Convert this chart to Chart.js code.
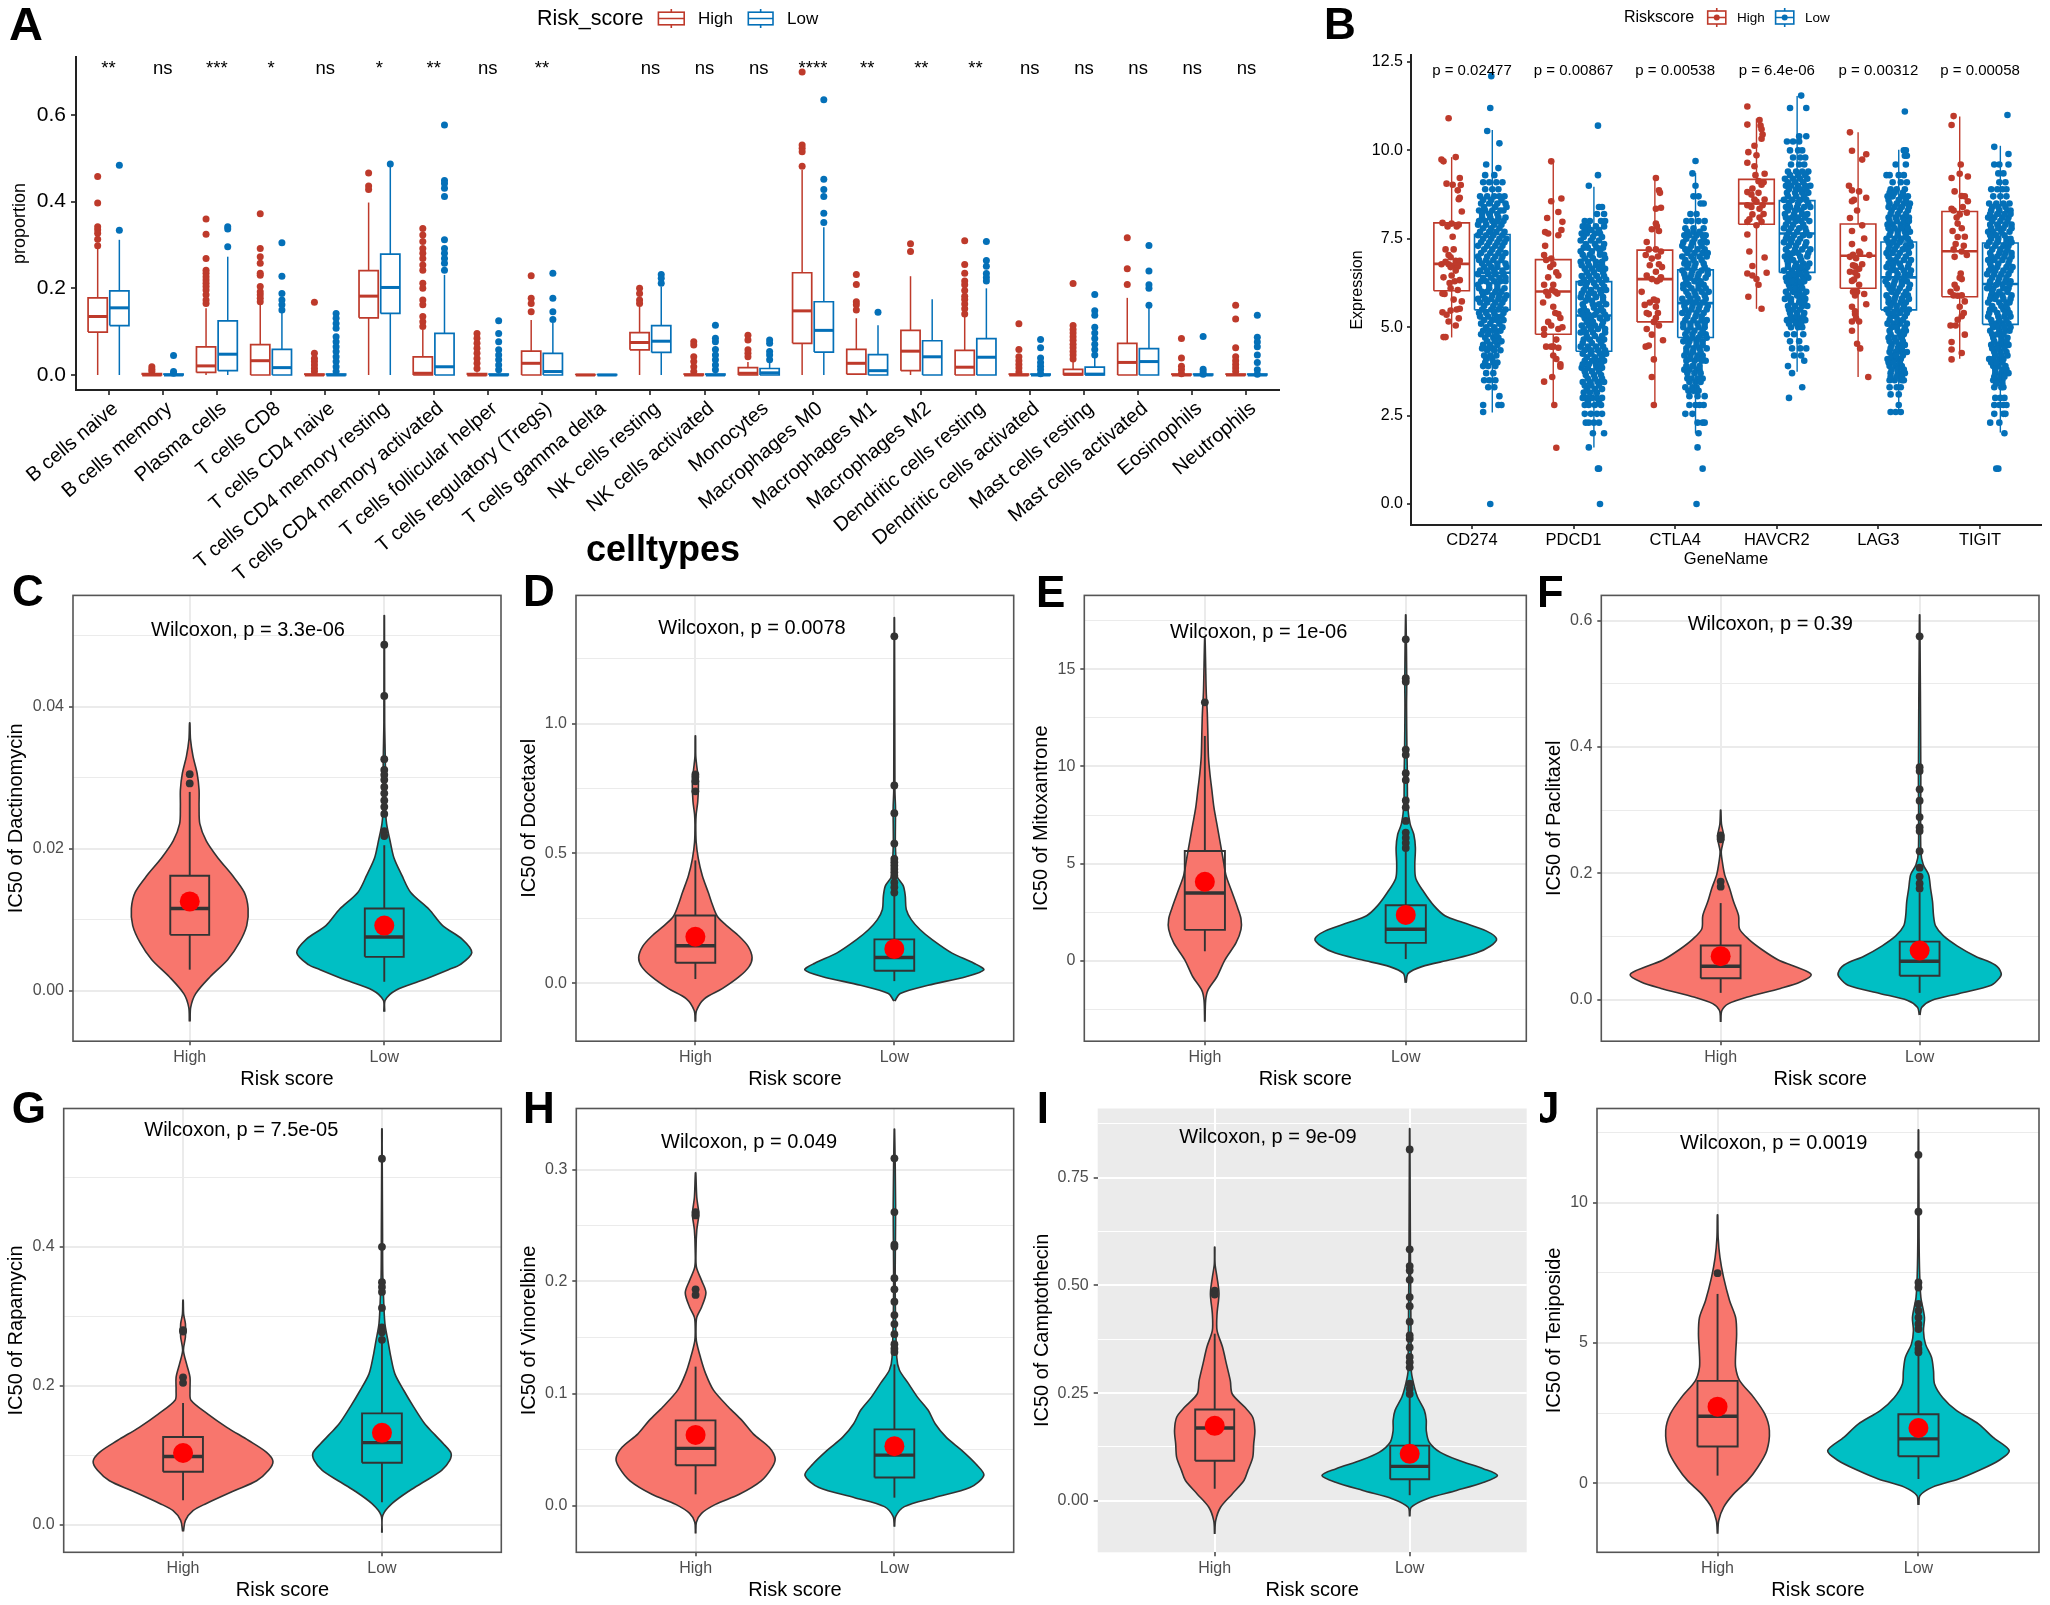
<!DOCTYPE html>
<html><head><meta charset="utf-8"><title>Risk score panels</title>
<script src="https://cdn.jsdelivr.net/npm/chart.js@4/dist/chart.umd.js"></script>
<style>html,body{margin:0;padding:0;background:#fff;width:2050px;height:1605px;overflow:hidden}canvas{position:absolute;display:block}</style>
</head><body>
<script>
/* ---------- Panel A data ---------- */
const cellTypes=["B cells naive","B cells memory","Plasma cells","T cells CD8","T cells CD4 naive","T cells CD4 memory resting","T cells CD4 memory activated","T cells follicular helper","T cells regulatory (Tregs)","T cells gamma delta","NK cells resting","NK cells activated","Monocytes","Macrophages M0","Macrophages M1","Macrophages M2","Dendritic cells resting","Dendritic cells activated","Mast cells resting","Mast cells activated","Eosinophils","Neutrophils"];
const sigLabels=["**","ns","***","*","ns","*","**","ns","**","","ns","ns","ns","****","**","**","**","ns","ns","ns","ns","ns"];
const boxesAHigh=[[0,.099,.135,.178,.292],[0,0,0,.003,.006],[0,.006,.021,.065,.154],[0,0,.033,.07,.165],[0,0,0,.002,.004],[0,.132,.182,.241,.398],[0,0,.004,.042,.104],[0,0,0,.003,.006],[0,0,.027,.055,.127],[0,0,0,.001,.001],[0,.058,.075,.098,.158],[0,0,0,.002,.004],[0,0,.004,.017,.03],[0,.073,.148,.236,.473],[0,.002,.027,.059,.131],[0,.01,.055,.103,.228],[0,0,.018,.057,.141],[0,0,0,.002,.004],[0,0,.002,.013,.03],[0,0,.029,.073,.178],[0,0,0,.002,.004],[0,0,0,.002,.004]];
const boxesALow=[[0,.114,.155,.194,.312],[0,0,0,.002,.004],[0,.01,.048,.125,.273],[0,0,.017,.059,.146],[0,0,0,.002,.004],[0,.142,.202,.279,.48],[0,0,.019,.096,.231],[0,0,0,.002,.004],[0,0,.008,.05,.12],[0,0,0,.001,.001],[0,.052,.078,.114,.204],[0,0,0,.002,.004],[0,0,.005,.015,.03],[0,.053,.103,.169,.341],[0,0,.01,.047,.115],[0,0,.042,.079,.175],[0,0,.041,.084,.2],[0,0,0,.002,.004],[0,0,.002,.018,.04],[0,0,.031,.061,.161],[0,0,0,.002,.004],[0,0,0,.002,.004]];
const outliersAHigh=[[.458,.397,.342,.335,.327,.313,.298],[.019,.013,.008],[.36,.325,.269,.242,.235,.227,.219,.212,.204,.196,.185,.173,.165],[.372,.292,.273,.258,.235,.23,.204,.192,.185,.177,.169],[.168,.05,.038,.031,.023,.015,.008],[.466,.436,.428],[.338,.323,.308,.292,.281,.269,.254,.242,.212,.2,.173,.162,.135,.123,.112],[.096,.085,.073,.062,.05,.038,.027,.015],[.229,.177,.165,.146],[],[.2,.188,.173,.165],[.077,.069,.042,.031,.019,.008],[.092,.081,.058,.05,.042],[.699,.531,.523,.515,.482],[.232,.209,.169,.162,.15],[.303,.285],[.31,.255,.235,.217,.208,.195,.182,.174,.164,.153,.141],[.118,.059,.042,.033,.024,.016,.007],[.211,.114,.105,.097,.088,.08,.071,.063,.054,.046,.037],[.317,.245,.209],[.084,.039,.02,.012,.003],[.161,.129,.063,.042,.033,.024,.016,.008]];
const outliersALow=[[.484,.334],[.045,.008,.004],[.342,.337,.296],[.305,.228,.188,.173,.162,.15],[.142,.131,.119,.108,.088,.077,.065,.054,.042,.031,.019,.008],[.487],[.577,.449,.442,.431,.412,.312,.292,.281,.269,.258,.242],[.125,.096,.077,.058,.046,.035,.023,.012],[.235,.177,.146,.128],[],[.232,.223,.212],[.115,.085,.077,.059,.046,.035,.023,.012],[.081,.073,.054,.046,.035],[.635,.452,.428,.412,.373,.352],[.145],[],[.308,.264,.251,.234,.225,.217],[.082,.063,.039,.029,.02,.012,.003],[.186,.148,.138,.11,.097,.084,.071,.059,.046],[.299,.24,.208,.2,.161],[.089,.013,.007,.002],[.138,.087,.076,.065,.046,.029,.012,.002]];
const tickValuesA=[0,.2,.4,.6];

/* ---------- Panel B data ---------- */
const geneNames=["CD274","PDCD1","CTLA4","HAVCR2","LAG3","TIGIT"];
const genePValues=["p = 0.02477","p = 0.00867","p = 0.00538","p = 6.4e-06","p = 0.00312","p = 0.00058"];
const boxesBHigh=[[4.71,6.03,6.79,7.95,9.81],[2.8,4.8,6.01,6.91,9.69],[2.8,5.15,6.36,7.18,9.24],[5.52,7.91,8.5,9.18,10.9],[3.59,6.1,7.02,7.92,10.51],[4.11,5.86,7.15,8.27,10.96]];
const boxesBLow=[[2.59,5.49,6.54,7.62,10.58],[1.6,4.32,5.33,6.29,8.97],[2,4.71,5.68,6.62,9.36],[3.74,6.55,7.65,8.58,11.54],[2.59,5.49,6.41,7.41,10.02],[2.02,5.08,6.22,7.38,10.13]];
const tickValuesB=[0,2.5,5,7.5,10,12.5];
const highCD274=[[-3,10.91],[-10,9.74],[-8,9.69],[4,9.81],[-5,9.06],[1,9.03],[8,9.22],[6,8.87],[8,8.66],[10,8.27],[-9,7.95],[0,7.93],[7,7.9],[1,7.56],[-6,7.2],[-3,7.04],[4,6.88],[-10,6.78],[-3,6.78],[2,6.73],[8,6.88],[8,6.33],[-8,6.41],[0,6.46],[-1,6.1],[6,6.05],[-7,5.94],[2,5.78],[10,5.73],[-9,5.42],[-1,5.47],[8,5.52],[-3,5.16],[4,5.05],[-8,4.72],[-6,4.72],[5,7.85],[-4,7.85],[2,7.2],[-1,6.98],[-6,6.85],[6,6.72],[-1,6.7],[4,6.6],[-2,6.25],[3,6.3],[-9,5.95],[5,5.5],[7,5.25],[-5,5.35],[9,9.02],[7,8.62]];
const highPDCD1=[[-2,9.69],[8,8.64],[-2,8.56],[-6,8.09],[5,8.26],[9,7.98],[-8,7.69],[-5,7.65],[8,7.75],[5,7.6],[-8,7.3],[-9,7.04],[-2,6.94],[0,6.78],[5,6.46],[-5,6.41],[0,6.2],[-9,6.2],[-7,6],[2,6],[-10,5.7],[0,5.58],[5,5.37],[7,5.26],[-2,5.05],[-9,4.95],[5,4.95],[9,5],[-9,4.79],[-7,4.45],[-2,4.45],[5,4.42],[0,4.2],[7,3.95],[7,3.88],[-9,3.46],[-1,3.59],[1,2.8],[3,1.59],[-7,6.9],[-3,6.7],[3,6.55],[-1,6.05],[4,5.95],[-5,5.9],[2,5.4],[-5,5.15],[3,4.65],[0,4.45],[3,4.1]];
const highCTLA4=[[1,9.22],[4,8.87],[6,8.38],[1,8.35],[1,7.93],[-3,7.77],[4,7.72],[-8,7.41],[1,7.2],[-9,7.04],[6,7.14],[-3,6.94],[4,6.78],[1,6.57],[-8,6.46],[6,6.41],[-3,6.36],[-13,6],[-1,5.78],[-10,5.63],[1,5.58],[-6,5.37],[1,5.26],[4,5.05],[-8,4.95],[-3,4.79],[8,4.63],[-6,4.48],[-9,4.45],[-1,4.09],[-3,3.59],[-1,2.8],[5,8.8],[2,7.85],[-6,7.2],[3,7],[-5,6.75],[7,6.7],[5,6.35],[2,6.3],[-5,5.7],[2,5.75],[-8,5.4],[3,5.4],[-1,5.15]];
const highHAVCR2=[[-9,11.24],[-9,10.73],[3,10.86],[5,10.6],[5,10.33],[-2,10.13],[-8,9.95],[0,9.86],[-9,9.65],[-2,9.55],[8,9.34],[2,9.13],[-9,8.82],[-4,8.92],[5,9.03],[-2,8.61],[8,8.61],[-9,8.45],[3,8.35],[-4,8.19],[-9,7.98],[5,7.98],[0,7.88],[-9,7.62],[-7,7.14],[8,6.97],[-4,6.73],[-9,6.52],[-4,6.46],[10,6.54],[0,6.36],[2,6.2],[-8,5.86],[5,5.52],[4,10.7],[6,10.45],[-1,9.3],[7,9.1],[-5,8.75],[2,8.8],[6,8.45],[0,8.55],[-5,8.4],[3,8.1],[-7,8.05],[7,8.2]];
const highLAG3=[[-8,10.51],[-6,9.99],[8,9.89],[4,9.74],[-9,9],[-6,8.87],[1,8.84],[8,8.66],[-6,8.56],[-1,8.3],[-8,8.09],[4,7.88],[-6,7.72],[6,7.51],[-6,7.35],[1,7.14],[-8,6.99],[11,7.04],[-3,6.73],[4,6.78],[-8,6.57],[-1,6.46],[-6,6.31],[-1,6],[6,5.94],[-6,5.58],[8,5.65],[-3,5.37],[-6,5.16],[1,5.16],[-6,4.9],[-1,4.53],[2,4.4],[10,3.59],[-4,8.6],[2,7.1],[-5,7.05],[-2,6.95],[-5,6.75],[1,6.65],[-3,6.55],[-4,6.35],[1,6.2],[-5,6],[-3,5.9],[-2,5.25],[-3,5.45]];
const highTIGIT=[[-6,10.97],[-8,10.72],[1,9.6],[0,9.34],[8,9.26],[-8,9.22],[-5,8.84],[2,8.71],[8,8.56],[-8,8.35],[0,8.19],[7,8.24],[-2,7.93],[-7,7.72],[5,7.56],[-4,7.35],[2,7.14],[-5,6.99],[7,7.04],[1,6.52],[2,6.36],[-5,6.2],[-9,6],[-2,5.89],[5,5.73],[0,5.58],[2,5.31],[-2,5.21],[-9,5.05],[5,4.79],[-8,4.58],[2,4.27],[-8,4.37],[-8,4.09],[5,8.7],[3,8.4],[-6,8.3],[-3,8.1],[2,7.8],[-2,7.55],[4,7.3],[-6,7.2],[0,6.4],[-3,6.1],[2,5.9],[-6,5.9],[4,5.4],[-4,5.05]];
const lowCD274=[[12.1,[-1]],[11.2,[-2]],[10.55,[-5]],[10.2,[7]],[9.6,[-6]],[9.5,[6]],[9.3,[-7,2]],[9.1,[-9,-3,4,10]],[8.9,[-7,0,6]],[8.7,[-12,-5,2,7,12]],[8.5,[-11,-3,5,13]],[8.3,[-13,-7,0,8,11]],[8.1,[-10,-2,6,13]],[7.9,[-14,-6,2,9]],[7.7,[-12,-3,4,12]],[7.5,[-9,-1,7,14]],[7.3,[-14,-5,3,10]],[7.1,[-11,-2,6,13]],[6.9,[-13,-6,1,9]],[6.7,[-8,-1,5,14]],[6.5,[-14,-4,3,11]],[6.3,[-11,-6,2,8,13]],[6.1,[-13,-3,5,12]],[5.9,[-9,0,7,14]],[5.7,[-12,-5,3,10]],[5.5,[-10,-1,6,13]],[5.3,[-12,-4,4,9]],[5.1,[-11,-2,7]],[4.9,[-9,-3,3,8]],[4.7,[-7,1,6]],[4.5,[-9,-2,5]],[4.35,[-5,2,8]],[4.1,[-6,0]],[3.9,[-9,-4,3]],[3.7,[-6,1]],[3.5,[-8,-3,3]],[3.3,[-4,2]],[3.05,[7]],[2.8,[-9,6,9]],[2.6,[-9]],[0,[-2]]];
const lowPDCD1=[[10.7,[4]],[9.3,[4]],[9,[-5]],[8.4,[5,8]],[8.2,[3,10]],[8,[-9,-4,7,11]],[7.85,[-11,-6,2,10]],[7.65,[-12,-7,1,6]],[7.45,[-13,-3,5]],[7.25,[-10,-6,3,9]],[7.05,[-11,-4,6,10]],[6.85,[-13,-6,2,8]],[6.65,[-9,-2,5,11]],[6.45,[-12,-5,3,10]],[6.25,[-13,-7,0,8]],[6.05,[-10,-3,6,12]],[5.85,[-13,-6,2,9]],[5.65,[-11,-1,5,12]],[5.45,[-13,-7,3,9]],[5.25,[-9,-3,6,13]],[5.05,[-12,-5,1,8]],[4.85,[-13,-8,-1,11]],[4.65,[-10,-4,5,10]],[4.45,[-13,-6,2,9]],[4.25,[-11,-3,6,12]],[4.05,[-9,-2,4,10]],[3.85,[-12,-6,3,8]],[3.65,[-8,0,7]],[3.45,[-11,-4,4,10]],[3.25,[-7,1,8]],[3,[-11,-7,-2,3,8]],[2.8,[-9,-5,1,7]],[2.55,[-9,-3,3,8]],[2.3,[-8,-5,0,5]],[2,[-1,10]],[1.6,[-5]],[1,[4,5]],[0,[6]]];
const lowCTLA4=[[9.7,[0]],[9.35,[-3]],[9,[0]],[8.7,[-2,3]],[8.5,[8,5]],[8.2,[-5,1]],[8,[-9,-4,3,9]],[7.8,[-10,-2,8]],[7.6,[-11,-6,1,7,10]],[7.4,[-12,-3,5,11]],[7.2,[-10,-6,2,9]],[7,[-13,-4,4,11]],[6.8,[-11,-7,0,8]],[6.6,[-13,-3,6,12]],[6.4,[-10,-5,2,10]],[6.2,[-12,-7,3,8]],[6,[-9,-1,6,13]],[5.8,[-13,-5,2,10]],[5.6,[-11,-3,4,12]],[5.4,[-13,-7,1,8]],[5.2,[-10,-2,6,11]],[5,[-12,-5,3,9]],[4.8,[-10,-3,5,10]],[4.6,[-12,-6,1,7]],[4.4,[-9,-2,4,11]],[4.2,[-11,-5,2,7]],[4.05,[-9,-1,6,10]],[3.8,[-11,-6,1,4]],[3.55,[-8,-4,2,7]],[3.3,[-10,-3,1]],[3.05,[-6,2,9]],[2.8,[-6,0,4,8]],[2.55,[-10,-3]],[2.3,[2,7,9]],[2,[3]],[1.6,[2]],[1,[7]],[0,[1]]];
const lowHAVCR2=[[11.55,[4]],[11.2,[-7,9]],[10.4,[2,9]],[10.25,[-10,-4,2]],[10,[-7,1,5]],[9.8,[-4,3,8]],[9.6,[-6,2,7]],[9.4,[-9,-1,5,11]],[9.2,[-12,-4,3,10]],[9,[-11,-6,1,8,13]],[8.8,[-10,-2,5,11]],[8.6,[-13,-5,3,9]],[8.4,[-11,-7,0,7,13]],[8.2,[-12,-3,5,10]],[8,[-9,-1,4,12]],[7.8,[-13,-6,2,8]],[7.6,[-10,-3,6,12]],[7.4,[-13,-6,1,9]],[7.2,[-11,-2,5,13]],[7,[-12,-7,3,10]],[6.8,[-9,-1,6,12]],[6.6,[-13,-5,2,8]],[6.4,[-11,-7,-1,6,11]],[6.2,[-8,-2,4]],[6,[-11,-4,2,9]],[5.8,[-12,-6,3,8]],[5.6,[-9,-2,5,10]],[5.4,[-7,0,7]],[5.2,[-10,-4,2,8]],[5,[-6,1,5]],[4.8,[-10,-3,6]],[4.6,[-7,2]],[4.4,[-5,3,9]],[4.2,[-3,4]],[4.05,[7]],[3.9,[-9]],[3.7,[-5]],[3.3,[5]],[3,[-8]]];
const lowLAG3=[[11.1,[6]],[10,[5,7]],[9.85,[6,8]],[9.6,[-3,7]],[9.3,[-12,-9,0,5]],[9.1,[-6,2,8]],[8.9,[-8,-2,6]],[8.7,[-11,-6,3,9]],[8.5,[-9,-2,5,11]],[8.3,[-7,1,9]],[8.1,[-10,-3,4,10]],[7.9,[-11,-6,2,8]],[7.7,[-8,-1,6,11]],[7.5,[-12,-4,3,9]],[7.3,[-9,-2,7,12]],[7.1,[-12,-6,1,10]],[6.9,[-8,-3,5,12]],[6.7,[-12,-6,2,9]],[6.5,[-10,-1,6,11]],[6.3,[-13,-4,3,8]],[6.1,[-9,-6,1,10]],[5.9,[-12,-3,5,9]],[5.7,[-10,-5,2,7]],[5.5,[-12,-2,4,10]],[5.3,[-8,-3,6]],[5.1,[-11,-5,1,8]],[4.9,[-9,-1,5,7]],[4.7,[-10,-4,3]],[4.5,[-7,0,6]],[4.3,[-9,-3,3,8]],[4.1,[-11,-6,-1,2]],[3.9,[-9,-3,3]],[3.7,[-8,-1,4,6]],[3.5,[-9,-4,3,5]],[3.3,[-9,-2,2]],[3.1,[-8,0]],[2.8,[0]],[2.6,[-8,-3,2]]];
const lowTIGIT=[[11,[7]],[10.1,[-6]],[9.9,[8]],[9.6,[-6,8,-1]],[9.35,[-2,3]],[9.1,[-1,5]],[8.9,[-9,-3,2,6]],[8.7,[-7,0,6]],[8.5,[-11,-4,3,9]],[8.3,[-9,-1,7,10]],[8.1,[-12,-6,2,8]],[7.9,[-10,-3,5,11]],[7.7,[-12,-7,1,9]],[7.5,[-9,-2,6,10]],[7.3,[-13,-5,3,8]],[7.1,[-10,-1,5,11]],[6.9,[-12,-6,2,9]],[6.7,[-9,-3,6,12]],[6.5,[-13,-6,1,8]],[6.3,[-10,-2,5,10]],[6.1,[-13,-7,3,8]],[5.9,[-9,-4,2,11]],[5.7,[-12,-1,6,9]],[5.5,[-10,-6,3,7]],[5.3,[-12,-2,4,10]],[5.1,[-8,-4,2,8]],[4.9,[-10,-1,5,9]],[4.7,[-7,1,7]],[4.5,[-9,-3,3,8]],[4.3,[-6,0,6]],[4.1,[-11,-7,-1,3]],[3.9,[-7,-2,5]],[3.7,[-5,1,4,8]],[3.5,[-7,-2,2]],[3.3,[-6,1,3]],[3,[-5,0,4]],[2.8,[-6,-1,3,6]],[2.55,[-6,3,5]],[2.3,[-10,-1]],[2,[4]],[1,[-4,-2]]];
/* additional dense-core points of the Low clouds */
const coreCD274=[[8.6,[-9,-1,9]],[8.4,[-8,3,14]],[8.2,[-10,-3,5]],[8,[-13,-7,0,5,11]],[7.8,[-9,-1,7]],[7.6,[-14,-6,1,10]],[7.4,[-11,-3,5,12]],[7.2,[-8,0,8]],[7,[-14,-5,3,10]],[6.8,[-10,-3,5,13]],[6.6,[-12,-5,2,10]],[6.4,[-9,-1,7,13]],[6.2,[-14,-3,5]],[6,[-10,-5,3,9]],[5.8,[-14,-7,-1,6,12]],[5.6,[-8,1,8]],[5.4,[-13,-6,2,11]],[5.2,[-8,0,5,11]],[5,[-6,2,10]],[4.8,[-11,-4,4]],[4.6,[-5,3,9]],[4.4,[-10,-4,0]],[4.2,[-8,-2,4]],[4,[-7,1,5]]];
const corePDCD1=[[7.75,[-9,-3,5]],[7.55,[-10,-1,8]],[7.35,[-8,1,10]],[7.15,[-13,-2,6]],[6.95,[-9,-1,11]],[6.75,[-12,-5,2,8]],[6.55,[-7,0,9]],[6.35,[-10,-3,5,12]],[6.15,[-8,2,10]],[5.95,[-12,-5,0,7]],[5.75,[-8,-2,9]],[5.55,[-10,0,7]],[5.35,[-11,-5,1,11]],[5.15,[-7,-1,9]],[4.95,[-10,-3,4,11]],[4.75,[-7,1,8]],[4.55,[-11,-2,7]],[4.35,[-9,-3,4,11]],[4.15,[-7,1,8]],[3.95,[-11,-5,2,7]],[3.75,[-9,-2,5]],[3.55,[-6,1,8]],[3.35,[-9,-3,5]],[3.15,[-10,-4,3]],[2.9,[-6,5]]];
const coreCTLA4=[[7.7,[-8,-2,4]],[7.5,[-9,-1,8]],[7.3,[-13,-4,6]],[7.1,[-8,-1,7,12]],[6.9,[-10,-2,6]],[6.7,[-8,-1,9]],[6.5,[-11,-4,3,12]],[6.3,[-9,-1,5]],[6.1,[-12,-4,3,10]],[5.9,[-7,0,9]],[5.7,[-9,-1,7]],[5.5,[-10,-4,3,11]],[5.3,[-8,0,6]],[5.1,[-12,-5,2,9]],[4.9,[-8,-1,7]],[4.7,[-9,-3,3,11]],[4.5,[-7,1,7]],[4.3,[-9,-3,5]],[4.1,[-6,1,7]],[3.9,[-9,-3,4]],[3.7,[-8,-1,5]],[3.45,[-6,0,5]],[3.2,[-7,-2,3]]];
const coreHAVCR2=[[9.3,[-7,1,8]],[9.1,[-9,-2,6]],[8.9,[-8,-1,3,9]],[8.7,[-9,-1,7]],[8.5,[-8,1,11]],[8.3,[-9,-2,4]],[8.1,[-11,-5,1,8]],[7.9,[-11,-4,6]],[7.7,[-8,0,9]],[7.5,[-11,-5,3]],[7.3,[-8,-1,8]],[7.1,[-9,-4,1,11]],[6.9,[-10,-4,4]],[6.7,[-9,-2,4,10]],[6.5,[-8,-3,3,9]],[6.3,[-10,-5,1,7]],[6.1,[-7,-1,5]],[5.9,[-9,0,6]],[5.7,[-6,2,7]],[5.5,[-8,-4,3]],[5.3,[-6,0,6]],[5.1,[-8,-1,4]]];
const coreLAG3=[[8.8,[-9,-4,4]],[8.6,[-10,0,7]],[8.4,[-10,-4,3,10]],[8.2,[-8,-1,7]],[8,[-9,-2,5,10]],[7.8,[-10,-4,3,9]],[7.6,[-9,-1,7]],[7.4,[-10,-6,1,11]],[7.2,[-10,-4,4,9]],[7,[-10,-1,7]],[6.8,[-10,-5,1,10]],[6.6,[-8,-3,5,12]],[6.4,[-10,-2,5]],[6.2,[-11,-5,3,11]],[6,[-7,-1,7]],[5.8,[-10,-4,3,10]],[5.6,[-8,-2,5]],[5.4,[-10,-5,1,8]],[5.2,[-9,-1,4]],[5,[-7,-2,6]],[4.8,[-8,1,5]],[4.6,[-9,-3,4]],[4.4,[-8,-1,3]],[4.2,[-7,-3,4]],[4,[-10,-5,1]],[3.8,[-7,-1,5]],[3.6,[-8,-2,3]]];
const coreTIGIT=[[8.4,[-8,-2,5]],[8.2,[-10,-3,4,10]],[8,[-8,0,7]],[7.8,[-9,-2,3,11]],[7.6,[-10,-4,4]],[7.4,[-11,-3,6,11]],[7.2,[-8,0,7]],[7,[-9,-3,4,11]],[6.8,[-10,-2,8]],[6.6,[-11,-5,3,10]],[6.4,[-8,-1,6]],[6.2,[-11,-4,2,9]],[6,[-8,-1,7]],[5.8,[-10,-5,3,10]],[5.6,[-8,1,6]],[5.4,[-11,-3,5,9]],[5.2,[-9,-1,6]],[5,[-7,-2,4,10]],[4.8,[-8,-3,3]],[4.6,[-6,1,6]],[4.4,[-8,-2,4]],[4.2,[-5,1,7]],[4,[-9,-4,2]],[3.8,[-5,2,6]],[3.6,[-6,0,4]],[3.4,[-4,2]]];

/* ---------- Violin panel data: [value, half-width in category units] ---------- */
const violinCHigh=[[-.0043,.002],[-.0023,.005],[-.0004,.03],[.002,.105],[.0044,.195],[.0068,.255],[.0092,.293],[.0116,.3],[.0139,.28],[.0163,.218],[.0187,.145],[.0211,.085],[.0235,.052],[.0259,.048],[.0283,.048],[.0306,.038],[.033,.017],[.0354,.004],[.0377,.001]];
const violinCLow=[[-.0029,.002],[-.0013,.005],[.0001,.06],[.0015,.195],[.003,.33],[.0037,.39],[.0054,.45],[.0073,.4],[.0092,.3],[.0115,.23],[.0139,.135],[.0163,.09],[.0187,.05],[.0211,.03],[.0235,.012],[.0259,.006],[.0306,.006],[.033,.005],[.0378,.002],[.0528,.001]];
const boxCHigh=[.003,.0079,.0116,.0162,.028],boxCLow=[.0013,.0048,.0076,.0116,.0205];
const meansC=[.0126,.0092];
const outCHigh=[.0292,.0305],outCLow=[.0487,.0415,.0326,.0311,.0304,.0297,.0287,.0278,.0268,.0259,.0249,.0225,.0218];

const violinDHigh=[[-.148,.001],[-.105,.006],[-.06,.045],[-.021,.135],[.025,.22],[.064,.27],[.099,.285],[.142,.265],[.181,.22],[.22,.16],[.258,.11],[.31,.082],[.349,.065],[.414,.035],[.479,.015],[.544,.004],[.609,.002],[.65,.004],[.7,.012],[.778,.015],[.843,.006],[.875,.002],[.953,.001]];
const violinDLow=[[-.069,.002],[-.04,.03],[-.008,.17],[.025,.36],[.051,.45],[.077,.4],[.116,.29],[.168,.19],[.206,.13],[.245,.085],[.284,.06],[.336,.055],[.375,.045],[.414,.012],[.479,.008],[.544,.005],[.674,.006],[.74,.003],[1.408,.001]];
const boxDHigh=[.016,.079,.144,.261,.473],boxDLow=[.008,.048,.099,.169,.401];
const meansD=[.179,.132];
const outDHigh=[.804,.794,.778,.739],outDLow=[1.336,.762,.655,.538,.479,.466,.453,.44,.427,.414,.388,.37,.349];

const violinEHigh=[[-3.14,.001],[-2.04,.004],[-1.52,.015],[-.82,.06],[.05,.1],[.92,.155],[1.62,.18],[2.15,.18],[2.67,.165],[3.54,.135],[4.41,.105],[5.29,.09],[6.16,.075],[7.03,.06],[7.91,.045],[8.78,.035],[9.65,.025],[10.5,.018],[11.7,.015],[12.8,.012],[13.8,.007],[15.2,.004],[16.6,.001]];
const violinELow=[[-1.13,.002],[-.65,.012],[-.3,.08],[.05,.22],[.4,.35],[.75,.42],[1.13,.452],[1.54,.4],[1.97,.285],[2.32,.195],[2.84,.14],[3.54,.09],[4.24,.05],[4.94,.045],[5.81,.048],[6.51,.04],[7.03,.022],[7.9,.01],[8.95,.008],[9.65,.008],[10.7,.006],[13.1,.004],[14.4,.005],[17.8,.001]];
const boxEHigh=[.49,1.59,3.49,5.65,11.57],boxELow=[.09,.92,1.62,2.86,5.81];
const meansE=[4.07,2.36];
const outEHigh=[13.3],outELow=[16.54,14.54,14.36,10.87,10.6,9.65,9.3,8.25,7.9,7.2,6.6,6.33,6.07,5.81];

const violinFHigh=[[-.035,.001],[-.017,.006],[-.006,.04],[.004,.13],[.018,.3],[.028,.4],[.04,.455],[.053,.37],[.063,.29],[.08,.205],[.096,.14],[.112,.095],[.133,.09],[.155,.065],[.176,.045],[.198,.02],[.219,.008],[.235,.003],[.257,.016],[.278,.004],[.3,.001]];
const violinFLow=[[-.024,.002],[-.012,.01],[-.001,.06],[.01,.2],[.023,.36],[.034,.4],[.042,.41],[.055,.38],[.069,.28],[.085,.19],[.101,.12],[.117,.08],[.133,.07],[.155,.065],[.176,.055],[.198,.045],[.214,.018],[.235,.006],[.359,.006],[.609,.001]];
const boxFHigh=[.011,.034,.053,.086,.153],boxFLow=[.011,.038,.061,.092,.17];
const meansF=[.069,.078];
const outFHigh=[.26,.254,.187,.179],outFLow=[.575,.368,.362,.333,.315,.289,.273,.267,.235,.209,.195,.184,.176];

const violinGHigh=[[-.01,.002],[.006,.012],[.02,.05],[.03,.115],[.049,.26],[.063,.37],[.078,.43],[.091,.452],[.104,.42],[.121,.33],[.14,.22],[.159,.125],[.179,.04],[.193,.035],[.212,.035],[.231,.018],[.251,.002],[.27,.012],[.289,.012],[.303,.003],[.323,.001]];
const violinGLow=[[-.012,.001],[.013,.004],[.03,.05],[.049,.14],[.063,.22],[.078,.3],[.092,.34],[.103,.347],[.116,.31],[.131,.26],[.145,.215],[.169,.16],[.193,.11],[.217,.065],[.241,.045],[.265,.03],[.289,.015],[.327,.008],[.361,.004],[.419,.003],[.546,.001],[.57,.001]];
const boxGHigh=[.035,.076,.098,.126,.175],boxGLow=[.032,.089,.118,.16,.262];
const meansG=[.103,.132];
const outGHigh=[.28,.278,.212,.204],outGLow=[.527,.4,.349,.342,.335,.312,.284,.277,.266];

const violinHHigh=[[-.025,.001],[-.015,.004],[-.007,.03],[.001,.1],[.01,.22],[.022,.33],[.034,.385],[.042,.4],[.052,.37],[.064,.29],[.076,.233],[.088,.165],[.103,.09],[.118,.05],[.132,.025],[.147,.004],[.159,.002],[.168,.006],[.177,.03],[.19,.052],[.201,.03],[.213,.004],[.228,.002],[.246,.006],[.26,.016],[.275,.006],[.297,.001]];
const violinHLow=[[-.019,.001],[-.01,.006],[-.001,.05],[.007,.2],[.016,.38],[.027,.45],[.037,.41],[.049,.34],[.061,.26],[.073,.205],[.085,.17],[.097,.115],[.109,.07],[.121,.025],[.132,.012],[.192,.004],[.269,.006],[.336,.001]];
const boxHHigh=[.01,.036,.051,.076,.124],boxHLow=[.007,.025,.045,.068,.126];
const meansH=[.063,.053];
const outHHigh=[.262,.259,.193,.188],outHLow=[.31,.262,.233,.231,.203,.193,.182,.17,.162,.153,.144,.14,.137];

const violinIHigh=[[-.077,.001],[-.046,.005],[-.015,.03],[.016,.09],[.047,.15],[.07,.17],[.101,.195],[.132,.2],[.163,.206],[.194,.195],[.217,.155],[.248,.09],[.279,.08],[.318,.06],[.357,.04],[.396,.012],[.434,.012],[.481,.022],[.519,.012],[.55,.002],[.589,.001]];
const violinILow=[[-.036,.001],[-.015,.008],[.005,.09],[.024,.24],[.043,.38],[.059,.45],[.074,.38],[.094,.25],[.113,.155],[.136,.1],[.163,.085],[.187,.085],[.21,.075],[.241,.04],[.272,.02],[.303,.008],[.864,.001]];
const boxIHigh=[.028,.093,.169,.212,.388],boxILow=[.013,.05,.08,.128,.241];
const meansI=[.174,.109];
const outIHigh=[.488,.479],outILow=[.816,.584,.545,.535,.513,.473,.452,.416,.384,.376,.356,.334,.322,.31,.272,.26,.248];

const violinJHigh=[[-1.8,.001],[-1.33,.006],[-.86,.03],[-.38,.08],[.1,.15],[.57,.2],[1.16,.245],[1.88,.258],[2.47,.235],[3.06,.18],[3.66,.11],[4.13,.09],[4.61,.09],[5.32,.095],[5.91,.09],[6.51,.06],[7.34,.03],[8.05,.012],[8.76,.003],[9.57,.001]];
const violinJLow=[[-.77,.002],[-.44,.008],[-.14,.07],[.15,.2],[.45,.3],[.81,.4],[1.16,.452],[1.64,.37],[2.11,.3],[2.59,.19],[3.06,.12],[3.54,.08],[4.01,.075],[4.49,.065],[4.96,.035],[5.44,.025],[5.91,.03],[6.63,.012],[7.46,.006],[8.76,.003],[12.6,.001]];
const boxJHigh=[.27,1.31,2.39,3.65,6.75],boxJLow=[.15,.96,1.58,2.46,4.61];
const meansJ=[2.73,1.97];
const outJHigh=[7.49],outJLow=[11.71,9.68,7.16,6.98,6.39,6.15,5.91,5.68,5.5,4.96,4.79,4.67];

const riskGroups=["High","Low"];

/* ---------- Styling ---------- */
const FONT='"Liberation Sans", Arial, sans-serif';
Chart.defaults.font.family=FONT;
const RED='#BE3A2B',BLUE='#0470B8',DARK='#333333',SALMON='#F8766D',TEAL='#00BFC4';

const decoPlugin={id:'deco',
  beforeDraw(chart){const g=chart.$g;if(g.panelBg){const a=chart.chartArea;chart.ctx.save();chart.ctx.fillStyle=g.panelBg;chart.ctx.fillRect(a.left,a.top,a.width,a.height);chart.ctx.restore();}},
  afterDraw(chart){const g=chart.$g,c=chart.ctx,a=chart.chartArea;
    if(g.panelBorder){c.save();c.strokeStyle=g.panelBorder;c.lineWidth=1.6;c.strokeRect(a.left,a.top,a.width,a.height);c.restore();}
    (chart.$deco||[]).forEach(d=>d(c,chart,g));
  }};
function pageText(text,x,y,font,opt={}){return (c,ch,g)=>{c.save();c.font=font;c.fillStyle=opt.color||'#000';c.textAlign=opt.align||'left';c.textBaseline=opt.base||'middle';c.fillText(text,x-g.cx0,y-g.cy0);c.restore();};}
function dataText(text,xv,yv,font,opt={}){return (c,ch)=>{if(!text)return;c.save();c.font=font;c.fillStyle='#000';c.textAlign='center';c.textBaseline=opt.base||'middle';c.fillText(text,ch.scales.x.getPixelForValue(xv),ch.scales.y.getPixelForValue(yv));c.restore();};}
function legendKey(x0,x1,y0,y1,wy0,wy1,color,dot){return (c,ch,g)=>{const X0=x0-g.cx0,X1=x1-g.cx0,Y0=y0-g.cy0,Y1=y1-g.cy0,m=(X0+X1)/2,mid=(Y0+Y1)/2;c.save();c.strokeStyle=color;c.lineWidth=1.6;c.strokeRect(X0,Y0,X1-X0,Y1-Y0);c.beginPath();c.moveTo(m,wy0-g.cy0);c.lineTo(m,Y0);c.moveTo(m,Y1);c.lineTo(m,wy1-g.cy0);c.moveTo(X0,mid);c.lineTo(X1,mid);c.stroke();if(dot){c.fillStyle=color;c.beginPath();c.arc(m,mid,3,0,Math.PI*2);c.fill();}c.restore();};}

function lineDs(points,color,width,extra){return Object.assign({data:points,showLine:true,pointRadius:0,borderColor:color,borderWidth:width,backgroundColor:'transparent',fill:false,tension:0,clip:false},extra||{});}
function pointDs(points,color,radius){return {data:points,showLine:false,pointRadius:radius,pointBackgroundColor:color,pointBorderWidth:0,clip:false};}
function boxDatasets(cx,hw,b,color,lw,medW,wW){
  const [lo,q1,med,q3,hi]=b;
  return [
    lineDs([{x:cx-hw,y:med},{x:cx+hw,y:med}],color,medW),
    lineDs([{x:cx-hw,y:q1},{x:cx+hw,y:q1},{x:cx+hw,y:q3},{x:cx-hw,y:q3},{x:cx-hw,y:q1}],color,lw),
    lineDs([{x:cx,y:lo},{x:cx,y:q1}],color,wW),
    lineDs([{x:cx,y:q3},{x:cx,y:hi}],color,wW)
  ];
}
function violinDs(cx,v,fill){
  const left=v.map(p=>({x:cx-p[1],y:p[0]}));
  const right=v.slice().reverse().map(p=>({x:cx+p[1],y:p[0]}));
  return lineDs(left.concat(right),DARK,1.6,{backgroundColor:fill,fill:'shape',tension:.3});
}

function axis(o){
  const horiz=o.horizontal;
  return {type:'linear',min:o.min,max:o.max,
    afterBuildTicks:s=>{s.ticks=o.ticks.map(v=>({value:v}));},
    afterFit:s=>{if(horiz)s.height=o.size;else s.width=o.size;s.paddingLeft=s.paddingRight=s.paddingTop=s.paddingBottom=0;},
    ticks:Object.assign({autoSkip:false,callback:o.label,font:{size:o.tickSize,family:FONT},color:o.tickColor,padding:o.tickPad,maxRotation:0,minRotation:0,includeBounds:false},o.tickExtra||{}),
    grid:{drawOnChartArea:!!o.gridColor,tickLength:o.tickLen,
      color:c=>o.gridColor||'transparent',
      lineWidth:c=>o.major&&!o.major.includes(c.tick.value)?1:2,
      tickColor:c=>(!o.major||o.major.includes(c.tick.value))?o.markColor:'transparent',tickWidth:o.markWidth||1.4},
    border:o.borderColor?{display:true,color:o.borderColor,width:2}:{display:false},
    title:o.title?{display:true,text:o.title,font:{size:o.titleSize,family:FONT},color:'#000',padding:{top:o.titlePad||0,bottom:o.titlePad||0}}:{display:false}
  };
}
function buildChart(g,datasets,x,y,deco){
  const w=g.cx1-g.cx0,h=g.cy1-g.cy0;
  const cv=document.createElement('canvas');cv.width=w;cv.height=h;
  cv.style.cssText=`left:${g.cx0}px;top:${g.cy0}px;width:${w}px;height:${h}px`;
  document.body.appendChild(cv);
  const ch=new Chart(cv,{type:'scatter',data:{datasets},
    options:{responsive:false,maintainAspectRatio:false,animation:false,devicePixelRatio:1,
      layout:{autoPadding:false,padding:{left:0,top:g.T-g.cy0,right:g.cx1-g.R,bottom:0}},
      plugins:{legend:{display:false},tooltip:{enabled:false}},scales:{x,y}},
    plugins:[{id:'bind',beforeInit(c){c.$g=g;c.$deco=deco;}},decoPlugin]});
  return ch;
}

/* ---------- Panel A ---------- */
(function(){
  const g={L:76,R:1279,T:57,B:390,cx0:9,cy0:0,cx1:1290,cy1:585};
  const perUnit=(375-115)/.6;
  const ds=[];
  cellTypes.forEach((_,i)=>{
    const c=i+1;
    ds.push(...boxDatasets(c-.2,.177,boxesAHigh[i],RED,1.7,3,1.5));
    ds.push(...boxDatasets(c+.2,.177,boxesALow[i],BLUE,1.7,3,1.5));
    ds.push(pointDs(outliersAHigh[i].map(v=>({x:c-.2,y:v})),RED,3.5));
    ds.push(pointDs(outliersALow[i].map(v=>({x:c+.2,y:v})),BLUE,3.5));
  });
  const deco=[
    pageText('A',9,40,'bold 47px '+FONT,{base:'alphabetic'}),
    pageText('Risk_score',537,19,'21.5px '+FONT),
    legendKey(658.4,684.2,12.2,24.8,8.9,28,RED),pageText('High',698,19,'17px '+FONT),
    legendKey(748.3,773,12.2,24.8,8.9,28,BLUE),pageText('Low',787,19,'17px '+FONT),
    pageText('celltypes',663,551,'bold 36px '+FONT,{align:'center'})
  ];
  sigLabels.forEach((s,i)=>deco.push(dataText(s,i+1,(375-73.5)/perUnit,'18.5px '+FONT,{base:'alphabetic'})));
  buildChart(g,ds,
    axis({horizontal:true,min:.4,max:22.6,ticks:cellTypes.map((_,i)=>i+1),label:v=>cellTypes[v-1],size:g.cy1-g.B,tickSize:20,tickColor:'#000',tickPad:2,tickLen:5,markColor:'#000',borderColor:'#222',tickExtra:{maxRotation:40,minRotation:40,labelOffset:7}}),
    axis({min:(375-g.B)/perUnit,max:(375-g.T)/perUnit,ticks:tickValuesA,label:v=>v.toFixed(1),size:g.L-g.cx0,tickSize:21,tickColor:'#000',tickPad:5,tickLen:5,markColor:'#000',borderColor:'#222',title:'proportion',titleSize:18,titlePad:.6}),
    deco);
})();

/* ---------- Panel B ---------- */
(function(){
  const g={L:1411,R:2041,T:55,B:525,cx0:1318,cy0:0,cx1:2048,cy1:571};
  const perUnit=(504-62)/12.5;
  const highs=[highCD274,highPDCD1,highCTLA4,highHAVCR2,highLAG3,highTIGIT];
  const lows=[lowCD274,lowPDCD1,lowCTLA4,lowHAVCR2,lowLAG3,lowTIGIT];
  const cores=[coreCD274,corePDCD1,coreCTLA4,coreHAVCR2,coreLAG3,coreTIGIT];
  const ds=[];
  geneNames.forEach((_,i)=>{
    const c=i+1;
    ds.push(...boxDatasets(c-.2,.175,boxesBHigh[i],RED,1.6,2.6,1.4));
    ds.push(...boxDatasets(c+.2,.175,boxesBLow[i],BLUE,1.6,2.6,1.4));
    ds.push(pointDs(highs[i].map(p=>({x:c-.2+p[0]/100,y:p[1]})),RED,3.3));
    const pts=[];lows[i].concat(cores[i]).forEach(r=>r[1].forEach(d=>pts.push({x:c+.2+d/100,y:r[0]})));
    ds.push(pointDs(pts,BLUE,3.3));
  });
  const deco=[
    pageText('B',1324,39,'bold 44px '+FONT,{base:'alphabetic'}),
    pageText('Riskscore',1624,18,'16px '+FONT),
    legendKey(1707.7,1725.8,11,24,8,27,RED,true),pageText('High',1737,18,'13.5px '+FONT),
    legendKey(1775.6,1793.8,11,24,8,27,BLUE,true),pageText('Low',1805,18,'13.5px '+FONT)
  ];
  genePValues.forEach((p,i)=>deco.push(dataText(p,i+1,12.26,'15px '+FONT)));
  buildChart(g,ds,
    axis({horizontal:true,min:.4,max:6.6,ticks:geneNames.map((_,i)=>i+1),label:v=>geneNames[v-1],size:g.cy1-g.B,tickSize:16.5,tickColor:'#000',tickPad:2,tickLen:4,markColor:'#000',borderColor:'#222',title:'GeneName',titleSize:16.5,titlePad:1.4}),
    axis({min:(504-g.B)/perUnit,max:(504-g.T)/perUnit,ticks:tickValuesB,label:v=>v.toFixed(1),size:g.L-g.cx0,tickSize:16,tickColor:'#000',tickPad:4,tickLen:4,markColor:'#000',borderColor:'#222',title:'Expression',titleSize:16,titlePad:29.8}),
    deco);
})();

/* ---------- Violin panels C–J ---------- */
const ROW1={T:595.4,B:1041.2,cy0:562,titleY:1079.2};
const ROW2={T:1108.5,B:1552.3,cy0:1085,titleY:1590};
const violinPanels=[
 {id:'C',row:ROW1,L:73,R:501,titleX:16.7,cal:[991,0,706.6,.04],major:[0,.02,.04],minor:[.01,.03,.05],dec:2,y:'IC50 of Dactinomycin',p:'Wilcoxon, p = 3.3e-06',px:151,py:630.7,lx:12,lb:605.5,v:[violinCHigh,violinCLow],b:[boxCHigh,boxCLow],m:meansC,o:[outCHigh,outCLow]},
 {id:'D',row:ROW1,L:576,R:1013.7,titleX:529.3,cal:[983.2,0,723.6,1],major:[0,.5,1],minor:[.25,.75,1.25],dec:1,y:'IC50 of Docetaxel',p:'Wilcoxon, p = 0.0078',px:658.3,py:628,lx:523,lb:605.5,v:[violinDHigh,violinDLow],b:[boxDHigh,boxDLow],m:meansD,o:[outDHigh,outDLow]},
 {id:'E',row:ROW1,L:1084.3,R:1526.3,titleX:1041.7,cal:[960.8,0,669.3,15],major:[0,5,10,15],minor:[-2.5,2.5,7.5,12.5,17.5],dec:0,y:'IC50 of Mitoxantrone',p:'Wilcoxon, p = 1e-06',px:1170,py:632,lx:1036,lb:606.5,v:[violinEHigh,violinELow],b:[boxEHigh,boxELow],m:meansE,o:[outEHigh,outELow]},
 {id:'F',row:ROW1,L:1601.3,R:2039,titleX:1554,cal:[999.8,0,620.5,.6],major:[0,.2,.4,.6],minor:[.1,.3,.5],dec:1,y:'IC50 of Paclitaxel',p:'Wilcoxon, p = 0.39',px:1687.7,py:624.6,lx:1536.7,lb:606.5,v:[violinFHigh,violinFLow],b:[boxFHigh,boxFLow],m:meansF,o:[outFHigh,outFLow]},
 {id:'G',row:ROW2,L:63.7,R:501.3,titleX:16.7,cal:[1524.5,0,1246.8,.4],major:[0,.2,.4],minor:[.1,.3,.5],dec:1,y:'IC50 of Rapamycin',p:'Wilcoxon, p = 7.5e-05',px:144.3,py:1130,lx:11.7,lb:1123,v:[violinGHigh,violinGLow],b:[boxGHigh,boxGLow],m:meansG,o:[outGHigh,outGLow]},
 {id:'H',row:ROW2,L:576.3,R:1013.7,titleX:529,cal:[1505.5,0,1169.5,.3],major:[0,.1,.2,.3],minor:[.05,.15,.25],dec:1,y:'IC50 of Vinorelbine',p:'Wilcoxon, p = 0.049',px:661,py:1142.3,lx:523,lb:1123,v:[violinHHigh,violinHLow],b:[boxHHigh,boxHLow],m:meansH,o:[outHHigh,outHLow]},
 {id:'I',row:ROW2,L:1097.7,R:1526.7,titleX:1042,cal:[1500.8,0,1177.8,.75],major:[0,.25,.5,.75],minor:[.125,.375,.625,.875],dec:2,y:'IC50 of Camptothecin',p:'Wilcoxon, p = 9e-09',px:1179.3,py:1137,lx:1036.7,lb:1123,grey:true,v:[violinIHigh,violinILow],b:[boxIHigh,boxILow],m:meansI,o:[outIHigh,outILow]},
 {id:'J',row:ROW2,L:1597,R:2039,titleX:1554,cal:[1483.2,0,1202.8,10],major:[0,5,10],minor:[2.5,7.5,12.5],dec:0,y:'IC50 of Teniposide',p:'Wilcoxon, p = 0.0019',px:1680,py:1143.3,lx:1535,lb:1123,v:[violinJHigh,violinJLow],b:[boxJHigh,boxJLow],m:meansJ,o:[outJHigh,outJLow]}
];
violinPanels.forEach(P=>{
  const r=P.row;
  const g={L:P.L,R:P.R,T:r.T,B:r.B,cy0:r.cy0,cx0:Math.floor(P.titleX-14),cx1:Math.ceil(P.R+4),cy1:Math.ceil(r.titleY+14)};
  g.panelBg=P.grey?'#EBEBEB':null;g.panelBorder=P.grey?null:'#555555';
  const perUnit=(P.cal[0]-P.cal[2])/(P.cal[3]-P.cal[1]);
  const ds=[];
  // the first dataset in the list is painted on top
  [0,1].forEach(k=>{ds.push(pointDs([{x:k+1,y:P.m[k]}],'#FF0000',10));});
  [0,1].forEach(k=>{
    ds.push(...boxDatasets(k+1,.1,P.b[k],DARK,1.9,3.4,1.9));
    ds.push(pointDs(P.o[k].map(v=>({x:k+1,y:v})),DARK,3.9));
  });
  ds.push(violinDs(2,P.v[1],TEAL));
  ds.push(violinDs(1,P.v[0],SALMON));
  const gridCol=P.grey?'#FFFFFF':'#EBEBEB';
  const titlePadX=P.titleX-g.cx0-12, titlePadY=g.cy1-r.titleY-12;
  const xa=axis({horizontal:true,min:.4,max:2.6,ticks:[1,2],label:v=>riskGroups[v-1],size:g.cy1-g.B,tickSize:16,tickColor:'#4D4D4D',tickPad:3,tickLen:4,markColor:'#333',gridColor:gridCol,title:'Risk score',titleSize:20});
  xa.title.padding={top:0,bottom:titlePadY};
  const ya=axis({min:P.cal[1]-(r.B-P.cal[0])/perUnit,max:P.cal[1]+(P.cal[0]-r.T)/perUnit,ticks:P.major.concat(P.minor),major:P.major,label:v=>P.major.includes(v)?v.toFixed(P.dec):'',size:g.L-g.cx0,tickSize:16,tickColor:'#4D4D4D',tickPad:5,tickLen:4,markColor:'#333',gridColor:gridCol,title:P.y,titleSize:20});
  ya.title.padding={top:titlePadX,bottom:0};
  buildChart(g,ds,xa,ya,[
    pageText(P.id,P.lx,P.lb,'bold 44px '+FONT,{base:'alphabetic'}),
    pageText(P.p,P.px,P.py,'20px '+FONT)
  ]);
});
</script>
</body></html>
